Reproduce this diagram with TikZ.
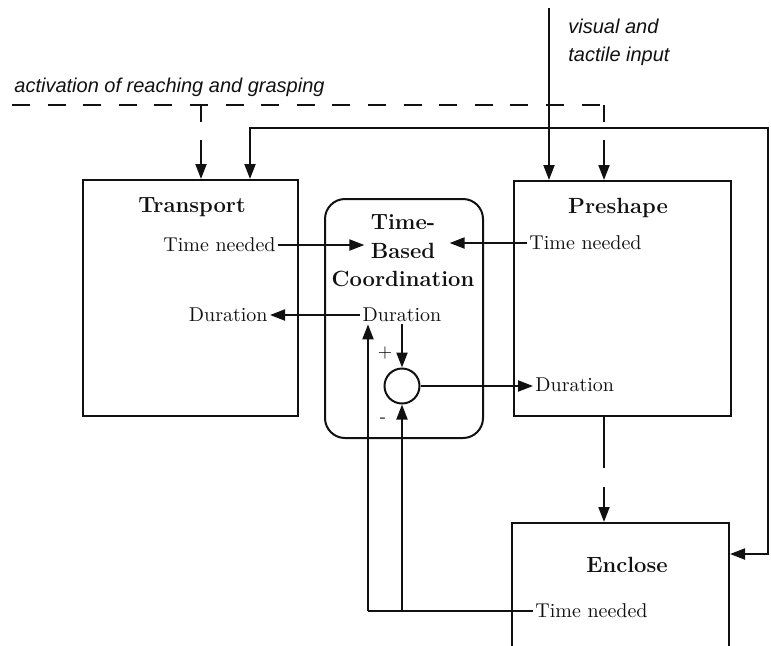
\documentclass[tikz,border=0pt]{standalone}
\usepackage{fontspec}
\usetikzlibrary{arrows.meta,positioning,calc}
\newfontfamily\inputfont{Liberation Sans}
\definecolor{Ink}{HTML}{111111}
\tikzset{
  block/.style={draw=Ink,line width=1pt,anchor=north west},
  coordbox/.style={draw=Ink,line width=1pt,rounded corners=10pt,anchor=north west},
  title/.style={font=\fontsize{11}{14.5}\selectfont\bfseries,text=Ink,inner sep=1pt},
  port/.style={font=\normalsize,text=Ink,inner sep=1pt},
  note/.style={font=\inputfont\itshape\fontsize{10}{14}\selectfont,text=Ink,align=left,inner sep=0pt},
  sign/.style={font=\small,text=Ink,inner sep=0pt},
  sum/.style={circle,draw=Ink,line width=1pt,minimum size=17.5pt,inner sep=0pt},
  flow/.style={-{Triangle[length=7.5pt,width=5.5pt]},draw=Ink,line width=1pt},
  plainline/.style={draw=Ink,line width=1pt},
  dashline/.style={draw=Ink,line width=1pt,dash pattern=on 9pt off 8.8pt},
  dashdrop/.style={flow,dash pattern=on 8.5pt off 9pt on 20pt off 1pt},
  dashlong/.style={flow,dash pattern=on 25.5pt off 9.5pt on 20pt off 1pt}
}
\begin{document}
\begin{tikzpicture}[x=0.5pt,y=-0.5pt]
  \clip (0,0) rectangle (771,645);

  % the three schemas and the coordinator
  \node[block,minimum width=107.5pt,minimum height=118pt] (transport) at (82,179) {};
  \node[block,minimum width=108.5pt,minimum height=117.5pt] (preshape) at (513,180) {};
  \node[block,minimum width=108.5pt,minimum height=100pt] (enclose) at (511,522) {};
  \node[coordbox,minimum width=79pt,minimum height=119.5pt] (tbc) at (324,198) {};

  \node[title] (transportTitle) at (192,207) {Transport};
  \node[title] (preshapeTitle) at (618,208) {Preshape};
  \node[title] (encloseTitle) at (627,565) {Enclose};
  \node[title] (tbcTime) at (403,222) {Time-};
  \node[title,inner xsep=3pt] (tbcBased) at (403,251) {Based};
  \node[title] (tbcCoord) at (403,279) {Coordination};

  % ports
  \node[port,anchor=east] (tnT) at (278,245) {Time needed};
  \node[port,anchor=west] (tnP) at (527,243) {Time needed};
  \node[port,anchor=west] (tnE) at (533,611) {Time needed};
  \node[port,anchor=east] (durT) at (270,315) {Duration};
  \node[port] (durC) at (402,315) {Duration};
  \node[port,anchor=west] (durP) at (533,385) {Duration};

  \node[sum] (sum) at (402,386) {};
  \node[sign] (plus) at (385,353) {+};
  \node[sign] (minus) at (383,420) {-};

  \draw[flow] (tnT.east) -- (tnT.east -| tbcBased.west);
  \draw[flow,shorten >=4pt] (tnP.west) -- (tnP.west -| tbcBased.east);
  \draw[flow] (durC.west) -- (durT.east);
  \draw[flow] (durC.south) -- (sum.north);
  \draw[flow] (sum.east) -- (sum.east -| durP.west);

  % feedback from enclose
  \coordinate (loopL) at (368,611);
  \coordinate (loopR) at (402,611);
  \draw[plainline] (tnE.west) -- (loopL);
  \draw[flow] (loopL) -- (loopL |- durC.south);
  \draw[flow] (loopR) -- (sum.south);

  % activation
  \node[note,anchor=west] (actLabel) at (14,87) {activation of reaching and grasping};
  \coordinate (actL) at (12,105);
  \coordinate (actT) at (201,105);
  \coordinate (actR) at (604,105);
  \draw[dashline] (actL) -- (actR);
  \draw[dashdrop] (actT) -- (actT |- transport.north);
  \draw[dashdrop] (actR) -- (actR |- preshape.north);
  \draw[dashlong] (actR |- preshape.south) -- (actR |- enclose.north);

  % sensory input
  \node[note,anchor=west] (visLabel) at (568,42) {visual and\\tactile input};
  \coordinate (visTop) at (549,8);
  \coordinate (visSplit) at (549,128);
  \coordinate (fbL) at (250,128);
  \coordinate (fbR) at (768,128);
  \coordinate (fbE) at (768,554);
  \draw[flow] (visTop) -- (visTop |- preshape.north);
  \draw[flow] (visSplit) -- (fbL) -- (fbL |- transport.north);
  \draw[flow] (visSplit) -- (fbR) -- (fbE) -- (fbE -| enclose.east);
\end{tikzpicture}
\end{document}
